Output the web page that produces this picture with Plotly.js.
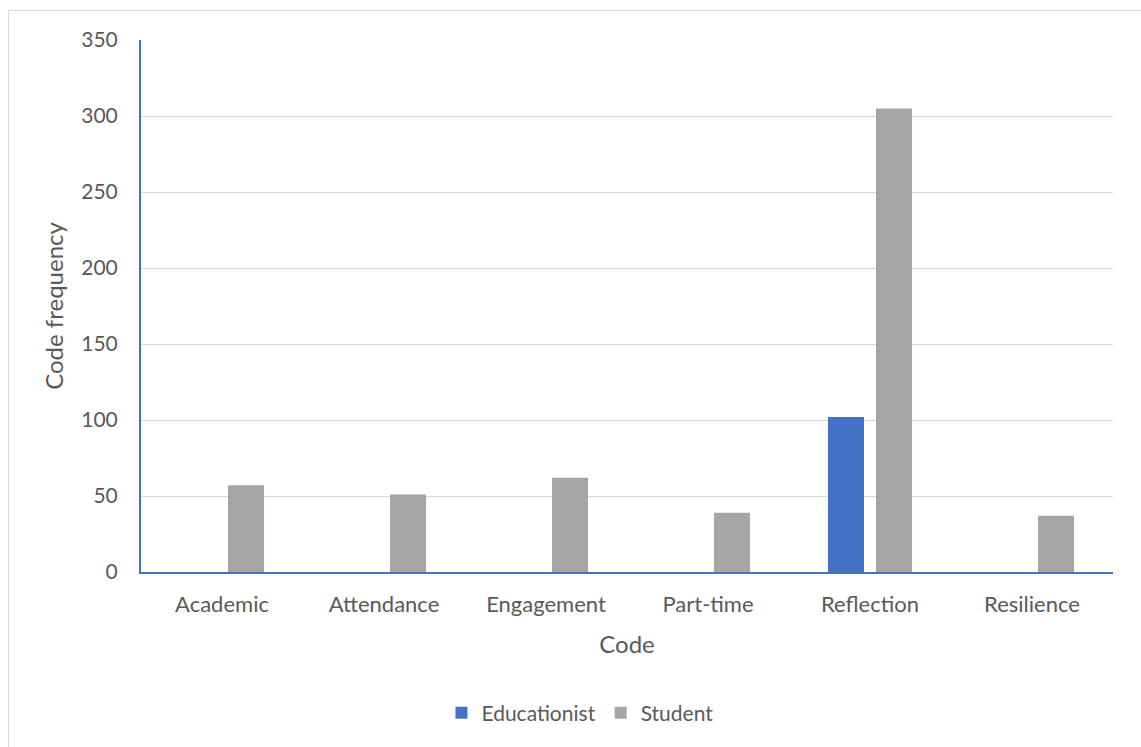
<!DOCTYPE html>
<html>
<head>
<meta charset="utf-8">
<script src="https://cdn.plot.ly/plotly-3.0.1.min.js"></script>
<style>
  html, body { margin: 0; padding: 0; background: #ffffff; overflow: hidden; }
  #chart { width: 1141px; height: 747px; }
</style>
</head>
<body>
<div id="chart"></div>
<script>
// Code frequencies by group
const codes = ["Academic", "Attendance", "Engagement", "Part-time", "Reflection", "Resilience"];
const educationist = [0, 0, 0, 0, 102, 0];
const student = [57, 51, 62, 39, 305, 37];
const yTicks = [0, 50, 100, 150, 200, 250, 300, 350];

const textColor = "#595959";
const fontFamily = "Lato, 'Open Sans', sans-serif";

const traces = [
  {
    type: "bar",
    name: "Educationist",
    x: codes,
    y: educationist,
    marker: { color: "#4472C4" },
    hoverinfo: "x+y+name"
  },
  {
    type: "bar",
    name: "Student",
    x: codes,
    y: student,
    marker: { color: "#A5A5A5" },
    hoverinfo: "x+y+name"
  }
];

const layout = {
  width: 1141,
  height: 747,
  margin: { l: 141, r: 28, t: 40, b: 175 },
  paper_bgcolor: "#ffffff",
  plot_bgcolor: "#ffffff",
  font: { family: fontFamily, size: 21, color: textColor },
  barmode: "group",
  bargap: 0.407,
  bargroupgap: 0.25,
  showlegend: true,
  legend: {
    orientation: "h",
    x: 0.4516,
    xanchor: "center",
    y: -0.265,
    yanchor: "middle",
    font: { family: fontFamily, size: 21, color: textColor },
    itemwidth: 30,
    traceorder: "normal"
  },
  xaxis: {
    type: "category",
    showline: true,
    linecolor: "#4472C4",
    linewidth: 2,
    showgrid: false,
    ticks: "",
    tickfont: { family: fontFamily, size: 22, color: textColor },
    ticklabelstandoff: 12,
    title: { text: "Code", font: { family: fontFamily, size: 24, color: textColor }, standoff: 20 }
  },
  yaxis: {
    range: [0, 350],
    tickvals: yTicks,
    ticktext: yTicks.map(String),
    showline: true,
    linecolor: "#4472C4",
    linewidth: 2,
    showgrid: true,
    gridcolor: "#D9D9D9",
    gridwidth: 1,
    zeroline: false,
    ticks: "",
    tickfont: { family: fontFamily, size: 21, color: textColor },
    ticklabelstandoff: 17,
    title: { text: "Code frequency", font: { family: fontFamily, size: 24, color: textColor }, standoff: 11 }
  },
  shapes: [
    // outer chart frame (top and left edges)
    { type: "line", xref: "paper", yref: "paper", x0: -0.1363, x1: 1.05, y0: 1.0555, y1: 1.0555,
      line: { color: "#D9D9D9", width: 1 } },
    { type: "line", xref: "paper", yref: "paper", x0: -0.1363, x1: -0.1363, y0: 1.0555, y1: -0.35,
      line: { color: "#D9D9D9", width: 1 } }
  ]
};

Plotly.newPlot("chart", traces, layout, { displayModeBar: false, staticPlot: true });
</script>
</body>
</html>
